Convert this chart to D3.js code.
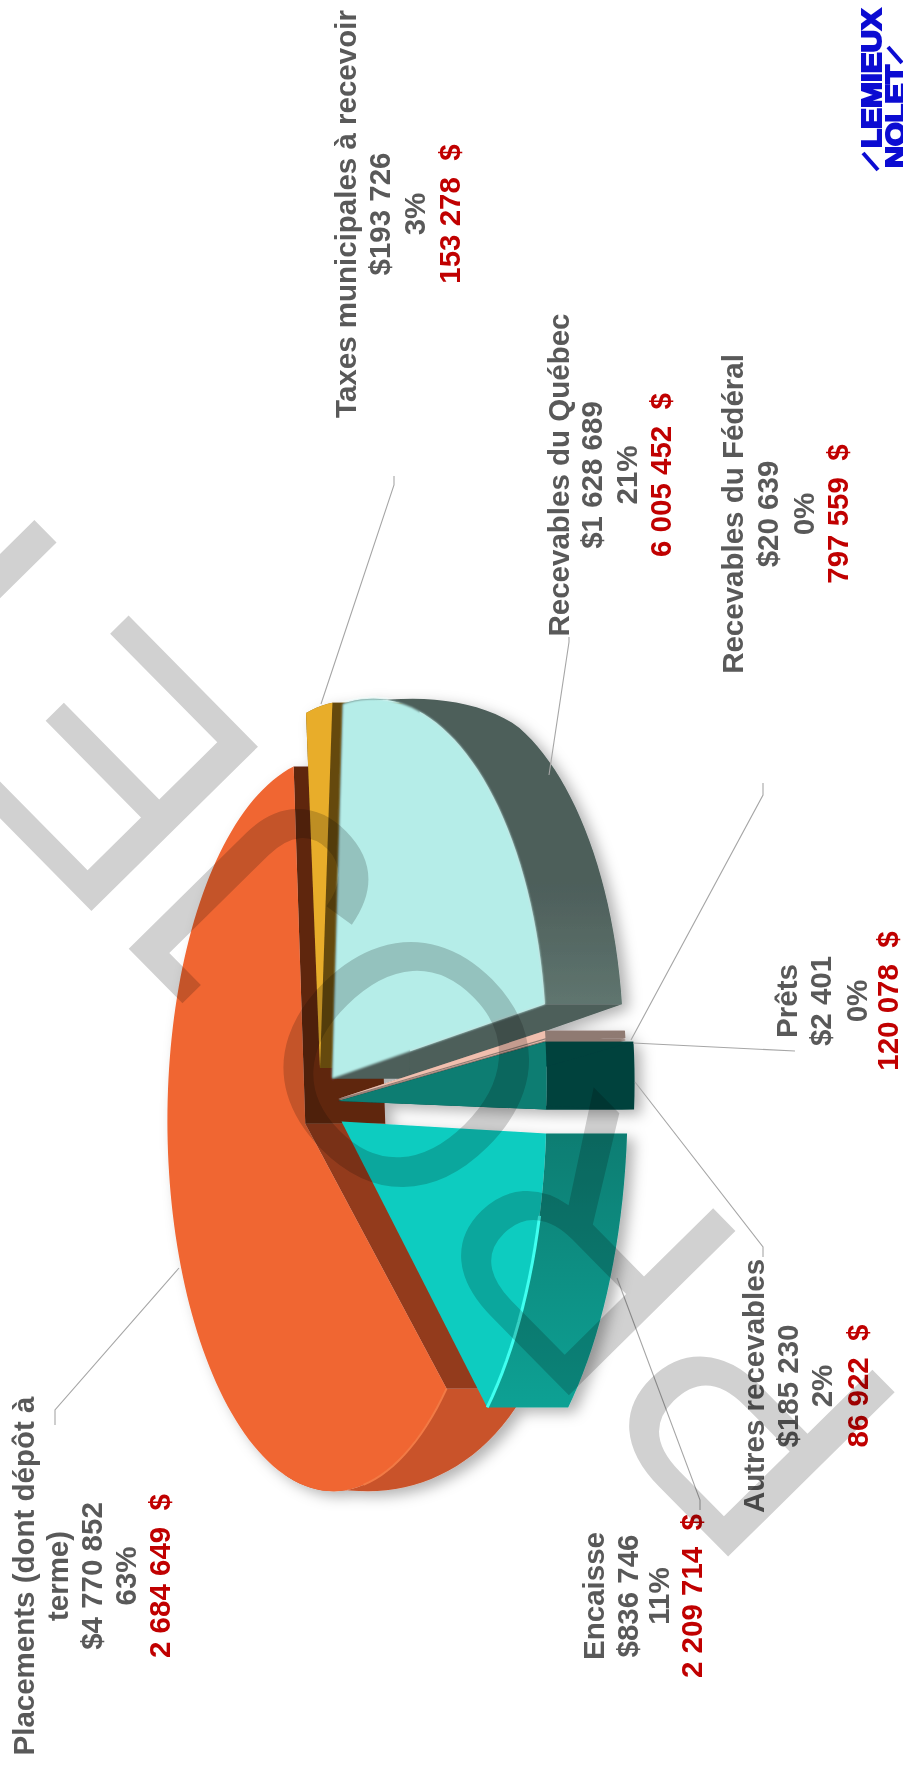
<!DOCTYPE html>
<html lang="fr">
<head>
<meta charset="utf-8">
<title>Placements et recevables</title>
<script src="https://d3js.org/d3.v7.min.js"></script>
<style>
  html, body { margin:0; padding:0; background:#fff; overflow:hidden; }
  svg { display:block; }
  .lbl { font-family:'Liberation Sans', Arial, sans-serif; font-weight:700; font-size:29.5px; fill:#595959; text-anchor:middle; }
</style>
</head>
<body>
<div id="chart"></div>
<script>
// Data, clockwise round the pie
const categories = ['Placements (dont dépôt à terme)', 'Taxes municipales à recevoir', 'Recevables du Québec',
  'Recevables du Fédéral', 'Prêts', 'Autres recevables', 'Encaisse'];
const nameLines = [['Placements (dont dépôt à', 'terme)'], ['Taxes municipales à recevoir'], ['Recevables du Québec'],
  ['Recevables du Fédéral'], ['Prêts'], ['Autres recevables'], ['Encaisse']];
const amounts = [4770852, 193726, 1628689, 20639, 2401, 185230, 836746];
const percents = [63, 3, 21, 0, 0, 2, 11];
const redAmounts = [2684649, 153278, 6005452, 797559, 120078, 86922, 2209714];

// Look of each slice: top face, outer wall, face at slice start, face at slice end
const topColors = ['#f06633', '#e8ad2c', '#b5ede8', '#f0bfae', '#f0bfae', '#0a7d72', '#10ccc0'];
const wallColors = ['#c9532b', '#8a6a1c', '#4d5e5a', '#8f7a72', '#8f7a72', '#04423d', '#0b8a7e'];
const startFace = ['#933b1d', '#654a0d', '#4d5e5a', '#8f7a72', '#8f7a72', '#04423d', 'none'];
const endFace = ['#5f2610', '#654a0d', '#4d5e5a', '#8f7a72', '#8f7a72', '#04423d', 'none'];
// explode offset of the rim, shift of the apex, own height of the ellipse, wall depth, angle nudges (deg)
const explode = [[-21, 18], [-8, -50], [12, -42], [12, -21], [12, -20], [12, -19], [12, -3]];
const apexShift = [[6, 0], [8, 12], [0, 15], [6, 14], [6, 14], [6, 14], [9, 18]];
const radiusY = [369, 350, 350, 350, 350, 350, 395];
const depths = [80, 80, 77, 80, 80, 88, 81];
const startNudge = [-5, 0, -3.5, 0, 0, 0, 0];
const endNudge = [0, 0, 0, 0, 0, 0, -3];

// Label layout: x of each text line, y of the block centre
const labelX = [[34, 68, 102, 136, 170], [356, 390, 425, 460], [569, 602, 637, 671], [743, 778, 814, 848], [797, 831, 867, 898], [764, 798, 832, 868], [604, 638, 669, 702]];
const labelY = [1576, 214, 475, 514, 1001, 1386, 1596];
const leaders = [
  [[179, 1268], [55, 1410], [55, 1425]],
  [[321, 704], [394, 485], [394, 476]],
  [[549, 775], [569, 642], [569, 637]],
  [[631, 1040], [763, 795], [763, 783]],
  [[633, 1043], [795, 1051]],
  [[635, 1082], [763, 1247], [763, 1257]],
  [[617, 1278], [700, 1500], [700, 1510]]
];

const W = 903, H = 1767;
const cx = 320, cy = 1106, rx = 166, persp = 0.2;
const rad = Math.PI / 180;

const svg = d3.select('#chart').append('svg').attr('width', W).attr('height', H);
const defs = svg.append('defs');
const sh = defs.append('filter').attr('id', 'shadow').attr('x', '-20%').attr('y', '-20%').attr('width', '140%').attr('height', '140%');
sh.append('feDropShadow').attr('dx', 7).attr('dy', 5).attr('stdDeviation', 7).attr('flood-color', '#000').attr('flood-opacity', 0.3);
defs.append('filter').attr('id', 'soft').append('feGaussianBlur').attr('stdDeviation', 1.3);
const wallGrad = defs.append('linearGradient').attr('id', 'aquaWall').attr('x1', 0).attr('y1', 0).attr('x2', 0).attr('y2', 1);
wallGrad.append('stop').attr('offset', '60%').attr('stop-color', '#4d5e5a');
wallGrad.append('stop').attr('offset', '100%').attr('stop-color', '#5f756f');
const turqGrad = defs.append('linearGradient').attr('id', 'turqWall').attr('x1', 0).attr('y1', 0).attr('x2', 0).attr('y2', 1);
turqGrad.append('stop').attr('offset', '0%').attr('stop-color', '#087d72');
turqGrad.append('stop').attr('offset', '100%').attr('stop-color', '#10a194');

// pie plane -> screen, near side (right) comes out bigger
function project(x, y) {
  const s = 1 / (1 - persp * x / rx);
  return [cx + x * s, cy + y * s];
}
const line = d3.line();

// walls thin out towards the far side of the pie
function wallDepth(i, a) {
  const deg = a / rad;
  let t = 0;
  if (i === 0) t = Math.min(1, Math.max(0, (deg - 128) / 58));
  if (i === 2) t = Math.max(0, (395 - deg) / 35);
  return depths[i] * (1 - Math.pow(t, 1.5));
}

const pie = d3.pie().sort(null).startAngle(133 * rad).endAngle(493 * rad);
const slices = pie(amounts);

const pieG = svg.append('g').attr('filter', 'url(#shadow)');

slices.forEach((d, i) => {
  const off = explode[i];
  const a0 = d.startAngle + startNudge[i] * rad, a1 = d.endAngle + endNudge[i] * rad;
  const apex = project(off[0] + apexShift[i][0], off[1] + apexShift[i][1]);
  const n = Math.max(2, Math.ceil((a1 - a0) / (2 * rad)));
  const angles = d3.range(n + 1).map(k => a0 + (a1 - a0) * k / n);
  const rim = angles.map(a => project(off[0] + rx * Math.sin(a), off[1] - radiusY[i] * Math.cos(a)));
  const outer = rim.map((p, k) => [p[0] + wallDepth(i, angles[k]), p[1]]);
  const down = p => [p[0] + depths[i], p[1]];
  const g = pieG.append('g').attr('class', 'slice');

  let wallFill = wallColors[i];
  if (i === 2) wallFill = 'url(#aquaWall)';
  if (i === 6) wallFill = 'url(#turqWall)';

  // outer wall first, then the two cut faces, then the top
  g.append('path').attr('fill', wallFill)
    .attr('d', line(rim.concat(outer.slice().reverse())) + 'Z');
  g.append('path').attr('fill', endFace[i])
    .attr('d', line([apex, rim[n], down(rim[n]), down(apex)]) + 'Z');
  g.append('path').attr('fill', startFace[i])
    .attr('d', line([apex, rim[0], down(rim[0]), down(apex)]) + 'Z');
  const top = g.append('path').attr('fill', topColors[i])
    .attr('d', line([apex].concat(rim)) + 'Z');
  if (i === 2) top.attr('filter', 'url(#soft)');

  // light rim on the turquoise and orange edges
  if (i === 6) g.append('path').attr('fill', 'none').attr('stroke', '#3ffff0').attr('stroke-width', 3).attr('d', line(rim.slice(5)));
  if (i === 0) g.append('path').attr('fill', 'none').attr('stroke', '#f27a45').attr('stroke-width', 2)
    .attr('d', line(rim.slice(0, 16)));
});

// Leader lines
svg.append('g').selectAll('path').data(leaders).join('path')
  .attr('fill', 'none').attr('stroke', '#a6a6a6').attr('stroke-width', 1.1)
  .attr('d', d => line(d));

// Labels, the whole sheet is turned a quarter to the left
const fmt = d3.formatLocale({ decimal: ',', thousands: ' ', grouping: [3], currency: ['$', ''] }).format(',d');
categories.forEach((c, i) => {
  const texts = nameLines[i].concat(['$' + fmt(amounts[i]), percents[i] + '%']);
  texts.forEach((t, k) => {
    svg.append('text').attr('class', 'lbl')
      .attr('transform', `translate(${labelX[i][k]},${labelY[i]}) rotate(-90)`).text(t);
  });
  svg.append('text').attr('class', 'lbl').style('fill', '#c00000')
    .attr('transform', `translate(${labelX[i][texts.length]},${labelY[i]}) rotate(-90)`)
    .text(fmt(redAmounts[i]) + '\u00a0\u00a0$');
});

// Logo
const logo = svg.append('g').attr('fill', '#0c0cd2').attr('stroke', '#0c0cd2').attr('stroke-width', 2)
  .style('font-family', "'Liberation Sans', Arial, sans-serif").style('font-weight', 700);
logo.append('text').attr('transform', 'translate(881,148) rotate(-90)').attr('font-size', 27)
  .attr('textLength', 139).attr('lengthAdjust', 'spacingAndGlyphs').text('LEMIEUX');
logo.append('text').attr('transform', 'translate(905,168) rotate(-90)').attr('font-size', 27)
  .attr('textLength', 103).attr('lengthAdjust', 'spacingAndGlyphs').text('NOLET');
logo.selectAll('path').data([[[863, 153], [878, 170]], [[888, 47], [902, 63]]]).join('path')
  .attr('stroke-width', 4).attr('fill', 'none').attr('d', d => line(d));

// Watermark over everything
svg.append('text').text('PROJET')
  .attr('transform', 'translate(489,981) rotate(-134.6)')
  .attr('text-anchor', 'middle').attr('dx', 65)
  .style('font-family', "'Liberation Sans', Arial, sans-serif")
  .style('font-size', '340px').style('fill', '#d1d1d1').style('mix-blend-mode', 'multiply');
</script>
</body>
</html>
